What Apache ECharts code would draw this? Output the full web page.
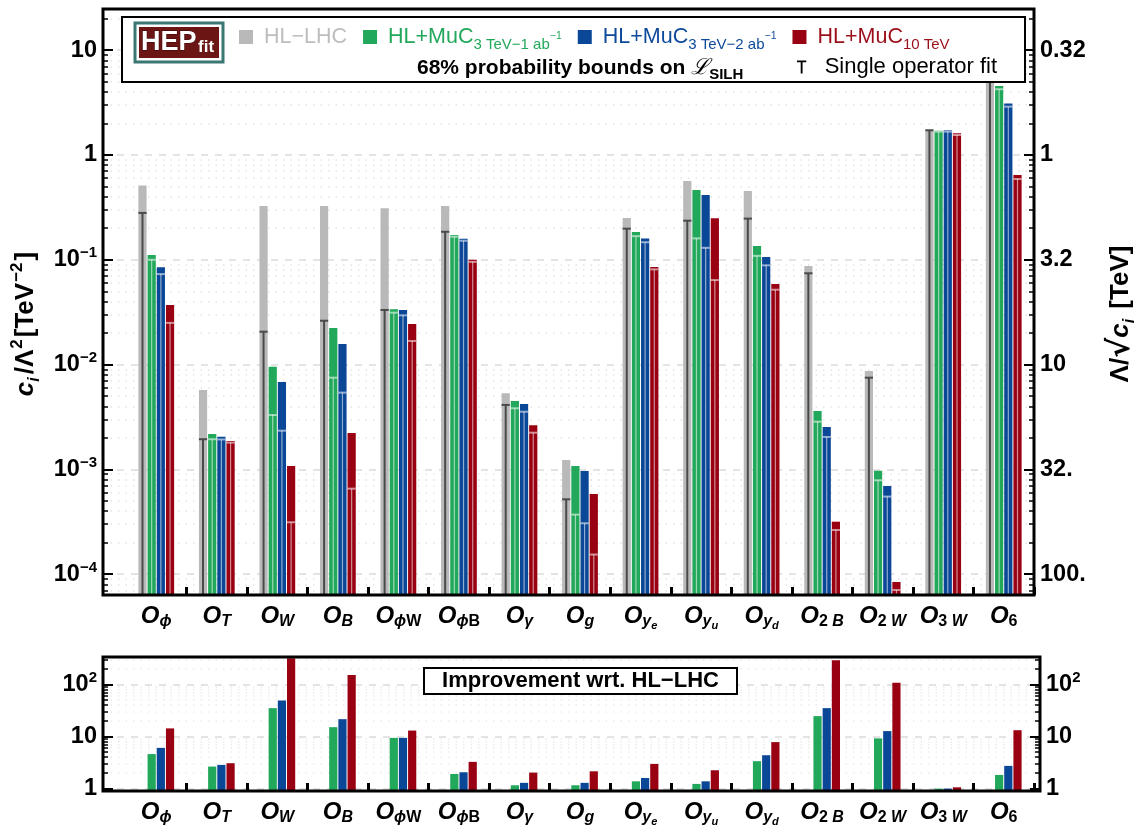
<!DOCTYPE html>
<html>
<head>
<meta charset="utf-8">
<script src="https://cdn.jsdelivr.net/npm/echarts@6/dist/echarts.min.js"></script>
<style>
  html, body { margin: 0; padding: 0; background: #fff; }
  #chart { width: 1146px; height: 833px; }
</style>
</head>
<body>
<div id="chart"></div>
<script>
// operators on the x axis
var operators = ['phi', 'T', 'W', 'B', 'phiW', 'phiB', 'gamma', 'g', 'ye', 'yu', 'yd', '2B', '2W', '3W', '6'];
var opLabels = [
  '{o|O}{s|ϕ}', '{o|O}{s|T}', '{o|O}{s|W}', '{o|O}{s|B}', '{o|O}{s|ϕ}{n|W}', '{o|O}{s|ϕ}{n|B}',
  '{o|O}{s|γ}', '{o|O}{s|g}', '{o|O}{s|y}{ss|e}', '{o|O}{s|y}{ss|u}', '{o|O}{s|y}{ss|d}',
  '{o|O}{n|2 }{s|B}', '{o|O}{n|2 }{s|W}', '{o|O}{n|3 }{s|W}', '{o|O}{n|6}'
];

// 68% bounds on c_i/Lambda^2 [TeV^-2], global fit (bar top) and single operator fit (marker)
var hlLhc        = [0.51, 0.00573, 0.326, 0.326, 0.31, 0.326, 0.00532, 0.00123, 0.25, 0.565, 0.453, 0.0873, 0.00869, 1.73, 8.2];
var hlLhcSingle  = [0.28, 0.00194, 0.0206, 0.0262, 0.0332, 0.185, 0.00412, 0.000518, 0.198, 0.236, 0.247, 0.0743, 0.0075, 1.72, 6.5];
var muc3a        = [0.111, 0.00218, 0.00955, 0.0223, 0.0337, 0.172, 0.0045, 0.00108, 0.184, 0.464, 0.135, 0.0036, 0.000972, 1.70, 4.55];
var muc3aSingle  = [0.100, 0.00194, 0.0033, 0.0075, 0.0313, 0.166, 0.00383, 0.00037, 0.168, 0.16, 0.109, 0.00285, 0.000787, 1.67, 4.24];
var muc3b        = [0.085, 0.00205, 0.00682, 0.0157, 0.0332, 0.159, 0.0042, 0.000966, 0.16, 0.415, 0.106, 0.00254, 0.000695, 1.72, 3.09];
var muc3bSingle  = [0.073, 0.00193, 0.00234, 0.0054, 0.0295, 0.152, 0.00355, 0.000306, 0.147, 0.13, 0.0885, 0.00204, 0.00055, 1.67, 2.89];
var muc10        = [0.037, 0.00187, 0.00108, 0.00222, 0.0244, 0.100, 0.00264, 0.000582, 0.0853, 0.249, 0.0588, 0.000317, 0.0000843, 1.61, 0.645];
var muc10Single  = [0.025, 0.0018, 0.000313, 0.000655, 0.0168, 0.0955, 0.00224, 0.000154, 0.081, 0.064, 0.0518, 0.000264, 0.0000707, 1.55, 0.59];

// improvement wrt HL-LHC
var impMuc3a  = [4.6, 2.65, 35, 15.1, 9.4, 1.91, 1.16, 1.16, 1.38, 1.23, 3.36, 24.6, 9.2, 1.0, 1.83];
var impMuc3b  = [6.05, 2.85, 49, 21.5, 9.4, 2.06, 1.29, 1.29, 1.6, 1.38, 4.37, 35, 12.7, 1.0, 2.73];
var impMuc10  = [14.3, 3.07, 316, 151, 13, 3.26, 2.03, 2.15, 2.98, 2.25, 7.8, 290, 108, 1.06, 13.2];

// tick labels
var topTicks     = [1e-4, 1e-3, 1e-2, 1e-1, 1, 10];
var topTickText  = ['{b|10}{e|−4}', '{b|10}{e|−3}', '{b|10}{e|−2}', '{b|10}{e|−1}', '{b|1}', '{b|10}'];
var topRightText = ['{b|100.}', '{b|32.}', '{b|10}', '{b|3.2}', '{b|1}', '{b|0.32}'];
var impTicks     = [1, 10, 100];
var impTickText  = ['{b|1}', '{b|10}', '{b|10}{e|2}'];

var FONT = 'Liberation Sans, Arial, sans-serif';
var GRAY = '#b9b9b9', GREEN = '#22a85a', BLUE = '#0b4797', RED = '#990012';
var BAR_W = 8.2, GAP = 0.12;
var TOP_MIN = 6.33e-5, TOP_MAX = 24.7, IMP_MIN = 0.9, IMP_MAX = 335;

function tickIndex(ticks, v) {
  for (var i = 0; i < ticks.length; i++) {
    if (Math.abs(Math.log10(v / ticks[i])) < 1e-6) return i;
  }
  return -1;
}
function labelFrom(ticks, texts) {
  return function (v) {
    var i = tickIndex(ticks, v);
    return i < 0 ? '' : texts[i];
  };
}

var tickRich = {
  b: { fontFamily: FONT, fontWeight: 'bold', fontSize: 23.5, lineHeight: 28, color: '#000' },
  e: { fontFamily: FONT, fontWeight: 'bold', fontSize: 15, lineHeight: 14, verticalAlign: 'top', color: '#000' }
};
var catRich = {
  o: { fontFamily: FONT, fontWeight: 'bold', fontStyle: 'italic', fontSize: 24, lineHeight: 30, color: '#000' },
  s: { fontFamily: FONT, fontWeight: 'bold', fontStyle: 'italic', fontSize: 16, lineHeight: 16, verticalAlign: 'bottom', padding: [0, 0, 1, 0], color: '#000' },
  n: { fontFamily: FONT, fontWeight: 'bold', fontSize: 16, lineHeight: 16, verticalAlign: 'bottom', padding: [0, 0, 1, 0], color: '#000' },
  ss: { fontFamily: FONT, fontWeight: 'bold', fontStyle: 'italic', fontSize: 11, lineHeight: 11, verticalAlign: 'bottom', color: '#000' }
};
var nameRich = {
  t: { fontFamily: FONT, fontWeight: 'bold', fontSize: 26, lineHeight: 34, color: '#000' },
  r: { fontFamily: 'DejaVu Sans, sans-serif', fontWeight: 'bold', fontSize: 30, lineHeight: 34, color: '#000' },
  i: { fontFamily: FONT, fontWeight: 'bold', fontStyle: 'italic', fontSize: 26, lineHeight: 34, color: '#000' },
  is: { fontFamily: FONT, fontWeight: 'bold', fontStyle: 'italic', fontSize: 16, lineHeight: 16, verticalAlign: 'bottom', padding: [0, 3, 0, 0], color: '#000' },
  sp: { fontFamily: FONT, fontWeight: 'bold', fontSize: 17, lineHeight: 17, verticalAlign: 'top', padding: [0, 2, 0, 1], color: '#000' }
};

function frameY(gi, min, max, position, formatter, minorColor) {
  return {
    type: 'log', gridIndex: gi, position: position, min: min, max: max,
    axisLine: { show: false },
    axisTick: { show: true, inside: true, length: 10, lineStyle: { color: '#000', width: 2 } },
    minorTick: { show: true, splitNumber: 9, length: 5, lineStyle: { color: '#000', width: 1.5 } },
    splitLine: { show: position === 'left', lineStyle: { color: '#dcdcdc', type: [7, 7], width: 1.5 } },
    minorSplitLine: { show: position === 'left', lineStyle: { color: minorColor, type: [1.5, 6], width: 1.5 } },
    axisLabel: { margin: 6, formatter: formatter, rich: tickRich }
  };
}

function makeMarker(slot, color, lineW) {
  var off = (slot - 1.5) * (BAR_W * (1 + GAP));
  return function (params, api) {
    var p = api.coord([api.value(0), api.value(1)]);
    var cs = params.coordSys;
    var x = p[0] + off, yb = cs.y + cs.height;
    return {
      type: 'group',
      children: [
        { type: 'line', shape: { x1: x, y1: p[1], x2: x, y2: yb }, style: { stroke: color, lineWidth: lineW } },
        { type: 'line', shape: { x1: x - BAR_W / 2, y1: p[1], x2: x + BAR_W / 2, y2: p[1] }, style: { stroke: color, lineWidth: 2 } }
      ]
    };
  };
}
function pairs(arr) {
  return arr.map(function (v, i) { return [i, v]; });
}

function barSeries(name, data, color, xi, yi) {
  return {
    name: name, type: 'bar', xAxisIndex: xi, yAxisIndex: yi, data: data,
    barWidth: BAR_W, barGap: (GAP * 100) + '%', silent: true, animation: false,
    itemStyle: { color: color }
  };
}
function markerSeries(slot, data, color, lineW) {
  return {
    name: 'Single operator fit', type: 'custom', xAxisIndex: 1, yAxisIndex: 2, data: pairs(data),
    renderItem: makeMarker(slot, color, lineW), z: 3, silent: true, animation: false
  };
}

var catAxis = function (gi) {
  return {
    type: 'category', gridIndex: gi, data: operators,
    axisLine: { show: false },
    axisTick: { show: true, inside: true, length: 8, interval: function (i) { return i > 0; }, lineStyle: { color: '#000', width: 3 } },
    axisLabel: { interval: 0, margin: 6, formatter: function (v, i) { return opLabels[i]; }, rich: catRich }
  };
};
var hiddenX = function (gi) { return { type: 'value', gridIndex: gi, show: false, min: 0, max: 1 }; };

var legendNames = ['HL−LHC', 'HL+MuC 3 TeV-1 ab', 'HL+MuC 3 TeV-2 ab', 'HL+MuC 10 TeV'];
var legendText = {
  'HL−LHC': '{km|HL−LHC}',
  'HL+MuC 3 TeV-1 ab': '{gm|HL+MuC}{gs|3 TeV−1 ab}{gp|−1}',
  'HL+MuC 3 TeV-2 ab': '{bm|HL+MuC}{bs|3 TeV−2 ab}{bp|−1}',
  'HL+MuC 10 TeV': '{rm|HL+MuC}{rs|10 TeV}'
};
var legendRich = {};
[['k', '#bdbdbd'], ['g', '#22a85a'], ['b', '#0e4a9a'], ['r', '#9b0f1a']].forEach(function (c) {
  legendRich[c[0] + 'm'] = { fontFamily: FONT, fontSize: 21.5, lineHeight: 30, color: c[1] };
  legendRich[c[0] + 's'] = { fontFamily: FONT, fontSize: 15, lineHeight: 15, verticalAlign: 'bottom', color: c[1] };
  legendRich[c[0] + 'p'] = { fontFamily: FONT, fontSize: 10.5, lineHeight: 10, verticalAlign: 'bottom', padding: [0, 0, 10, 0], color: c[1] };
});

var leftTop = frameY(0, TOP_MIN, TOP_MAX, 'left', labelFrom(topTicks, topTickText), '#e4e4e4');
leftTop.name = '{i|c}{is|i}{t|/Λ}{sp|2}{t|[TeV}{sp|−2}{t|]}';
leftTop.nameLocation = 'middle';
leftTop.nameRotate = 90;
leftTop.nameGap = 50;
leftTop.nameTextStyle = { rich: nameRich, padding: [0, 44, 0, 0] };

var rightTop = frameY(0, TOP_MIN, TOP_MAX, 'right', labelFrom(topTicks, topRightText), '#e4e4e4');
rightTop.name = '{t|Λ/}{r|√}{i|c}{is|i}{t| [TeV]}';
rightTop.nameLocation = 'middle';
rightTop.nameRotate = 90;
rightTop.nameGap = 70;
rightTop.nameTextStyle = { rich: nameRich, padding: [0, 24, 0, 0] };

var option = {
  backgroundColor: '#fff',
  animation: false,
  grid: [
    { left: 103, right: 106, top: 9, height: 586, show: true, borderColor: '#000', borderWidth: 3, z: 5 },
    { left: 126, width: 908, top: 9, height: 586 },
    { left: 103, right: 106, top: 657, height: 134, show: true, borderColor: '#000', borderWidth: 3, z: 5 },
    { left: 126, width: 908, top: 657, height: 134 }
  ],
  xAxis: [hiddenX(0), catAxis(1), hiddenX(2), catAxis(3)],
  yAxis: [
    leftTop,
    rightTop,
    { type: 'log', gridIndex: 1, min: TOP_MIN, max: TOP_MAX, startValue: TOP_MIN, show: false },
    frameY(2, IMP_MIN, IMP_MAX, 'left', labelFrom(impTicks, impTickText), '#ececec'),
    frameY(2, IMP_MIN, IMP_MAX, 'right', labelFrom(impTicks, impTickText), '#ececec'),
    { type: 'log', gridIndex: 3, min: IMP_MIN, max: IMP_MAX, startValue: IMP_MIN, show: false }
  ],
  legend: [{
    data: legendNames.map(function (n) { return { name: n, icon: 'rect' }; }),
    left: 239, top: 26, padding: 0, itemWidth: 14, itemHeight: 14, itemGap: 16, selectedMode: false, z: 60,
    formatter: function (n) { return legendText[n]; },
    textStyle: { fontFamily: FONT, fontSize: 21.5, padding: [0, 0, 0, 6], rich: legendRich }
  }, {
    data: [{ name: 'Single operator fit', icon: 'path://M0,0H10V2H6V14H4V2H0Z', itemStyle: { color: '#000' } }],
    left: 797, top: 54, padding: 0, itemWidth: 10, itemHeight: 13, selectedMode: false, z: 60,
    textStyle: { fontFamily: FONT, fontSize: 22, lineHeight: 26, color: '#000', padding: [0, 0, 0, 13] }
  }],
  graphic: [
    { type: 'rect', z: 50, shape: { x: 122, y: 17, width: 903, height: 65 }, style: { fill: '#fff', stroke: '#000', lineWidth: 2 } },
    { type: 'rect', z: 51, shape: { x: 135, y: 23, width: 88, height: 39 }, style: { fill: '#fff', stroke: '#3a7672', lineWidth: 3 } },
    { type: 'rect', z: 52, shape: { x: 139, y: 27, width: 80, height: 31 }, style: { fill: '#6b1515' } },
    { type: 'text', z: 53, x: 141, y: 43, style: { text: 'HEP', fill: '#fff', stroke: '#3b0808', lineWidth: 1, font: 'bold 27px ' + FONT, textVerticalAlign: 'middle' } },
    { type: 'text', z: 53, x: 198, y: 47, style: { text: 'fit', fill: '#fff', font: 'bold 17px ' + FONT, textVerticalAlign: 'middle' } },
    { type: 'text', z: 53, x: 417, y: 68, style: {
      text: '{a|68% probability bounds on }{l|ℒ}{s|SILH}', textVerticalAlign: 'middle',
      rich: {
        a: { fill: '#000', fontFamily: FONT, fontWeight: 'bold', fontSize: 21, lineHeight: 28 },
        l: { fill: '#000', fontFamily: 'DejaVu Serif, serif', fontStyle: 'italic', fontSize: 22, lineHeight: 28 },
        s: { fill: '#000', fontFamily: FONT, fontWeight: 'bold', fontSize: 15, lineHeight: 15, verticalAlign: 'bottom' }
      } } },
    { type: 'rect', z: 50, shape: { x: 424, y: 668, width: 313, height: 26 }, style: { fill: '#fff', stroke: '#000', lineWidth: 2 } },
    { type: 'text', z: 53, x: 580.5, y: 681, style: { text: 'Improvement wrt. HL−LHC', fill: '#000', font: 'bold 22px ' + FONT, textAlign: 'center', textVerticalAlign: 'middle' } }
  ],
  series: [
    barSeries('HL−LHC', hlLhc, GRAY, 1, 2),
    barSeries('HL+MuC 3 TeV-1 ab', muc3a, GREEN, 1, 2),
    barSeries('HL+MuC 3 TeV-2 ab', muc3b, BLUE, 1, 2),
    barSeries('HL+MuC 10 TeV', muc10, RED, 1, 2),
    markerSeries(0, hlLhcSingle, '#4a4a4a', 2),
    markerSeries(1, muc3aSingle, 'rgba(255,255,255,0.55)', 1.2),
    markerSeries(2, muc3bSingle, 'rgba(255,255,255,0.55)', 1.2),
    markerSeries(3, muc10Single, 'rgba(255,255,255,0.55)', 1.2),
    barSeries('HL−LHC', operators.map(function () { return null; }), GRAY, 3, 5),
    barSeries('HL+MuC 3 TeV-1 ab', impMuc3a, GREEN, 3, 5),
    barSeries('HL+MuC 3 TeV-2 ab', impMuc3b, BLUE, 3, 5),
    barSeries('HL+MuC 10 TeV', impMuc10, RED, 3, 5)
  ]
};

var chart = echarts.init(document.getElementById('chart'));
chart.setOption(option);
</script>
</body>
</html>
